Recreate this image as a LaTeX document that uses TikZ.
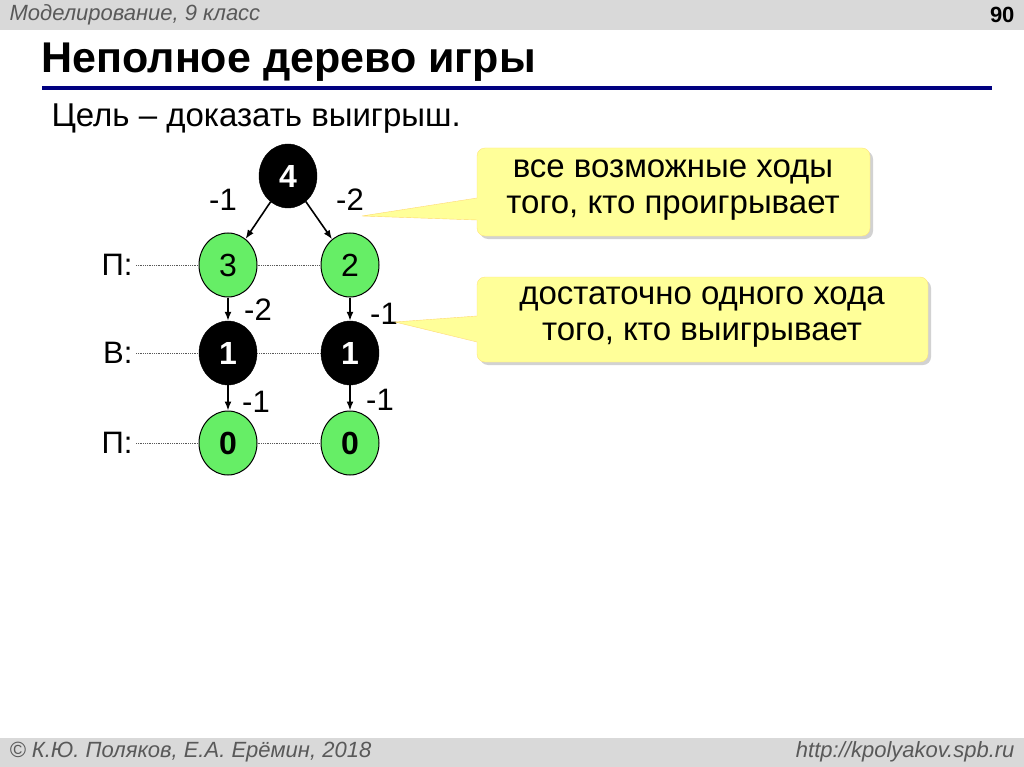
\documentclass[tikz,border=0pt]{standalone}
\usepackage{fontspec}
\setmainfont{Liberation Sans}
\usetikzlibrary{shadows,shapes.geometric,arrows.meta}
\definecolor{gbar}{HTML}{D9D9D9}
\definecolor{ngreen}{HTML}{66EE66}
\definecolor{cyel}{HTML}{FFFF99}
\definecolor{tblue}{HTML}{000080}
\begin{document}
\begin{tikzpicture}[x=1pt,y=-1pt,
  gnode/.style={ellipse,draw=black,line width=1pt,fill=ngreen,minimum width=58pt,minimum height=64pt,inner sep=0pt,font=\fontsize{32}{32}\selectfont},
  bnode/.style={ellipse,draw=black,fill=black,text=white,minimum width=58pt,minimum height=64pt,inner sep=0pt,font=\bfseries\fontsize{32}{32}\selectfont},
  lab/.style={font=\fontsize{31}{31}\selectfont},
  arr/.style={-{Latex[length=9pt,width=7pt]},line width=1.6pt},
  dot/.style={densely dotted,gray!70!black,line width=0.8pt},
  callout/.style={rounded corners=8pt,fill=cyel,draw=cyel!80!orange,drop shadow={shadow xshift=3pt,shadow yshift=-3pt,opacity=0.35}}]
\useasboundingbox (0,0) rectangle (1024,767);
\fill[white] (0,0) rectangle (1024,767);
\fill[gbar] (0,0) rectangle (1024,30);
\fill[gbar] (0,738) rectangle (1024,767);
\node[anchor=west,text=gray!70!black,font=\itshape\fontsize{22}{22}\selectfont] (hdr) at (6,15) {Моделирование, 9 класс};
\node[anchor=east,font=\bfseries\fontsize{22}{22}\selectfont] (pg) at (1018,15) {90};
\node[anchor=west,font=\itshape\fontsize{22}{22}\selectfont,text=gray!70!black] (ft) at (6,752) {© К.Ю. Поляков, Е.А. Ерёмин, 2018};
\node[anchor=east,font=\itshape\fontsize{22}{22}\selectfont,text=gray!70!black] (url) at (1018,752) {http://kpolyakov.spb.ru};
\node[anchor=west,font=\bfseries\fontsize{43}{43}\selectfont] (title) at (38,62) {Неполное дерево игры};
\fill[tblue] (42,86) rectangle (992,90);
\node[anchor=west,font=\fontsize{33}{33}\selectfont] (sub) at (48,119) {Цель – доказать выигрыш.};
% level labels
\node[lab,anchor=east] (l1) at (136,265) {П:};
\node[lab,anchor=east] (l2) at (136,353) {В:};
\node[lab,anchor=east] (l3) at (136,443) {П:};
% nodes
\node[bnode] (n4) at (288,176) {4};
\node[gnode] (n3) at (228,265) {3};
\node[gnode] (n2) at (350,265) {2};
\node[bnode] (a1) at (228,353) {1};
\node[bnode] (b1) at (350,353) {1};
\node[gnode,font=\bfseries\fontsize{32}{32}\selectfont] (a0) at (228,443) {0};
\node[gnode,font=\bfseries\fontsize{32}{32}\selectfont] (b0) at (350,443) {0};
% dotted
\draw[dot] (l1.east) -- (n3.west); \draw[dot] (n3.east) -- (n2.west);
\draw[dot] (l2.east) -- (a1.west); \draw[dot] (a1.east) -- (b1.west);
\draw[dot] (l3.east) -- (a0.west); \draw[dot] (a0.east) -- (b0.west);
% arrows
\draw[arr] (n4) -- (n3);
\draw[arr] (n4) -- (n2);
\draw[arr] (n3) -- (a1);
\draw[arr] (n2) -- (b1);
\draw[arr] (a1) -- (a0);
\draw[arr] (b1) -- (b0);
\node[lab] (e1) at (223,200) {-1};
\node[lab] (e2) at (350,200) {-2};
\node[lab] (e3) at (258,310) {-2};
\node[lab] (e4) at (384,314) {-1};
\node[lab] (e5) at (256,402) {-1};
\node[lab] (e6) at (380,400) {-1};
% callouts
\coordinate (t1) at (362,216);
\coordinate (t2) at (395,322);
\path[callout] (477,148) rectangle (870,236);
\fill[cyel] (478,198) -- (t1) -- (478,220) -- cycle;
\draw[cyel!70!orange] (477,198) -- (t1) -- (477,220);
\path[callout] (477,277) rectangle (928,362);
\fill[cyel] (478,316) -- (t2) -- (478,342) -- cycle;
\draw[cyel!70!orange] (477,316) -- (t2) -- (477,342);
\node[align=center,font=\fontsize{33}{36}\selectfont] (c1) at (673,190) {все возможные ходы\\того, кто проигрывает};
\node[align=center,font=\fontsize{33}{36}\selectfont] (c2) at (702,317) {достаточно одного хода\\того, кто выигрывает};
\end{tikzpicture}
\end{document}
